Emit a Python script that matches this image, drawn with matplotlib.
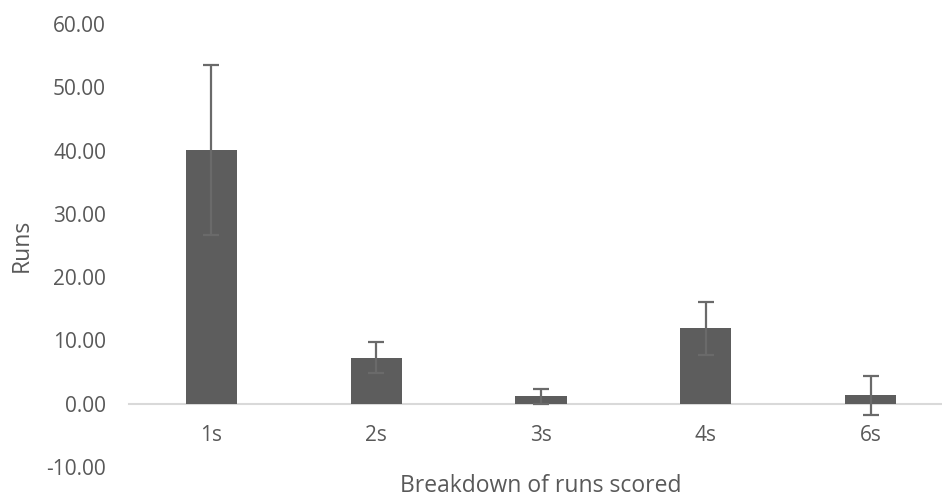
import matplotlib
matplotlib.use("Agg")
import matplotlib.pyplot as plt
import numpy as np

categories = ["1s", "2s", "3s", "4s", "6s"]
values = [40.1, 7.3, 1.15, 11.95, 1.35]
errors = [13.4, 2.45, 1.15, 4.2, 3.1]
y_ticks = [-10, 0, 10, 20, 30, 40, 50, 60]

plt.rcParams['font.family'] = ['Open Sans', 'DejaVu Sans']
txt = '#595959'

W, H = 942, 497
fig = plt.figure(figsize=(W / 100, H / 100), dpi=100)
left, right = 129, 953
bottom, top = 30, 473
ax = fig.add_axes([left / W, bottom / H, (right - left) / W, (top - bottom) / H])

x = np.arange(len(categories))
ax.bar(x, values, width=0.31, color='#5d5d5d', zorder=2)
ax.errorbar(x, values, yerr=errors, fmt='none', ecolor='#6a6a6a', elinewidth=1.6,
            capsize=5.5, capthick=1.6, zorder=3)

ax.set_xlim(-0.5, len(categories) - 0.5)
ax.set_ylim(-10, 60)
ax.set_yticks(y_ticks)
ax.set_yticklabels([f"{v:.2f}" for v in y_ticks])
ax.set_xticks(x)
ax.set_xticklabels(categories)

for s in ['top', 'right', 'left']:
    ax.spines[s].set_visible(False)
ax.spines['bottom'].set_position(('data', 0))
ax.spines['bottom'].set_color('#d9d9d9')
ax.spines['bottom'].set_linewidth(1.5)
ax.spines['bottom'].set_zorder(1)

ax.tick_params(axis='y', length=0, pad=16.5, labelsize=15, labelcolor=txt)
ax.tick_params(axis='x', length=0, pad=15, labelsize=15, labelcolor=txt)

ax.set_ylabel("Runs", fontsize=16.5, color=txt)
ax.yaxis.set_label_coords((22 - left) / (right - left), 0.5)
ax.set_xlabel("Breakdown of runs scored", fontsize=16.5, color=txt)
ax.xaxis.set_label_coords(0.5, (H - 486 - bottom) / (top - bottom))
ax.xaxis.label.set_va('center')
ax.yaxis.label.set_va('center')

fig.savefig("out.png", dpi=100, facecolor='white')
